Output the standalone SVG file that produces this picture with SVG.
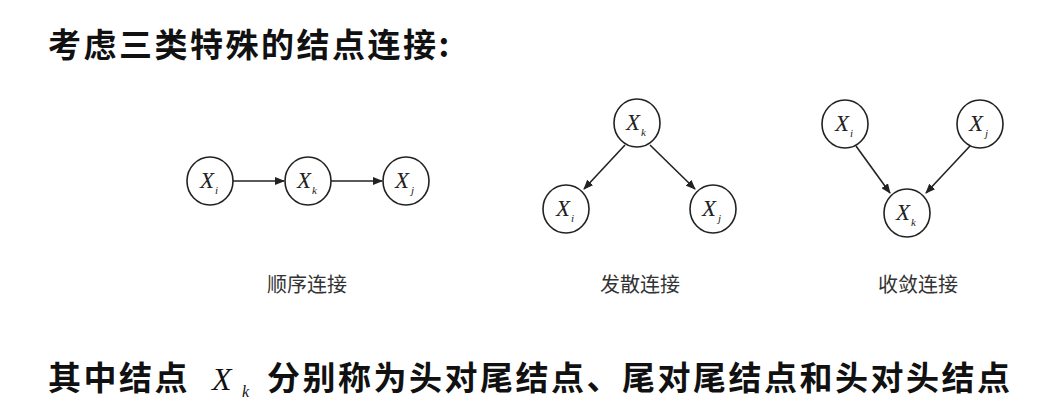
<svg xmlns="http://www.w3.org/2000/svg" width="1043" height="417" viewBox="0 0 1043 417">
<style>
.n{fill:#fff;stroke:#222;stroke-width:1.6}
.t{font-family:"Liberation Serif",serif;font-style:italic;font-size:23px;fill:#222}
.s{font-family:"Liberation Serif",serif;font-style:italic;font-size:11px;fill:#222}
.c{stroke:#222;stroke-width:1.6;fill:none;marker-end:url(#a)}
.h{font-family:"Noto Sans CJK SC",sans-serif;font-weight:bold;font-size:33px;fill:#111;letter-spacing:2.5px}
.l{font-family:"Noto Sans CJK SC",sans-serif;font-size:20px;fill:#333}
</style>
<defs><marker id="a" markerWidth="10" markerHeight="8" refX="9" refY="4" orient="auto" markerUnits="userSpaceOnUse"><path d="M0,0L10,4L0,8z" fill="#222"/></marker></defs>
<rect width="1043" height="417" fill="#fff"/>
<text class="h" x="48" y="57">考虑三类特殊的结点连接:</text>
<g id="connectors">
<line class="c" x1="233" y1="181" x2="284" y2="181"/>
<line class="c" x1="331" y1="181" x2="382" y2="181"/>
<line class="c" x1="625" y1="145" x2="584" y2="189"/>
<line class="c" x1="650" y1="145" x2="695" y2="189"/>
<line class="c" x1="856" y1="146" x2="890" y2="193"/>
<line class="c" x1="970" y1="146" x2="926" y2="193"/>
</g>
<g id="c1xi"><ellipse class="n" cx="210" cy="181" rx="23" ry="24"/><text class="t" x="200" y="188">X</text><text class="s" x="215" y="194">i</text></g>
<g id="c1xk"><ellipse class="n" cx="308" cy="181" rx="23" ry="24"/><text class="t" x="297" y="188">X</text><text class="s" x="312" y="194">k</text></g>
<g id="c1xj"><ellipse class="n" cx="406" cy="181" rx="23" ry="24"/><text class="t" x="395" y="188">X</text><text class="s" x="411" y="194">j</text></g>
<g id="c2xk"><ellipse class="n" cx="637" cy="123" rx="23" ry="24"/><text class="t" x="626" y="130">X</text><text class="s" x="641" y="136">k</text></g>
<g id="c2xi"><ellipse class="n" cx="566" cy="209" rx="23" ry="24"/><text class="t" x="556" y="216">X</text><text class="s" x="571" y="222">i</text></g>
<g id="c2xj"><ellipse class="n" cx="713" cy="209" rx="23" ry="24"/><text class="t" x="702" y="216">X</text><text class="s" x="718" y="222">j</text></g>
<g id="c3xi"><ellipse class="n" cx="845" cy="124" rx="23" ry="24"/><text class="t" x="835" y="131">X</text><text class="s" x="850" y="137">i</text></g>
<g id="c3xj"><ellipse class="n" cx="980" cy="124" rx="23" ry="24"/><text class="t" x="969" y="131">X</text><text class="s" x="985" y="137">j</text></g>
<g id="c3xk"><ellipse class="n" cx="907" cy="213" rx="23" ry="24"/><text class="t" x="896" y="220">X</text><text class="s" x="911" y="226">k</text></g>
<text class="l" x="307" y="292" text-anchor="middle">顺序连接</text>
<text class="l" x="640" y="292" text-anchor="middle">发散连接</text>
<text class="l" x="918" y="292" text-anchor="middle">收敛连接</text>
<text class="h" x="48" y="390">其中结点</text>
<text x="212" y="390" font-family="Liberation Serif,serif" font-style="italic" font-size="32" fill="#111">X</text>
<text x="242" y="397" font-family="Liberation Serif,serif" font-style="italic" font-size="16" fill="#111">k</text>
<text class="h" x="267" y="390">分别称为头对尾结点、尾对尾结点和头对头结点</text>
</svg>
